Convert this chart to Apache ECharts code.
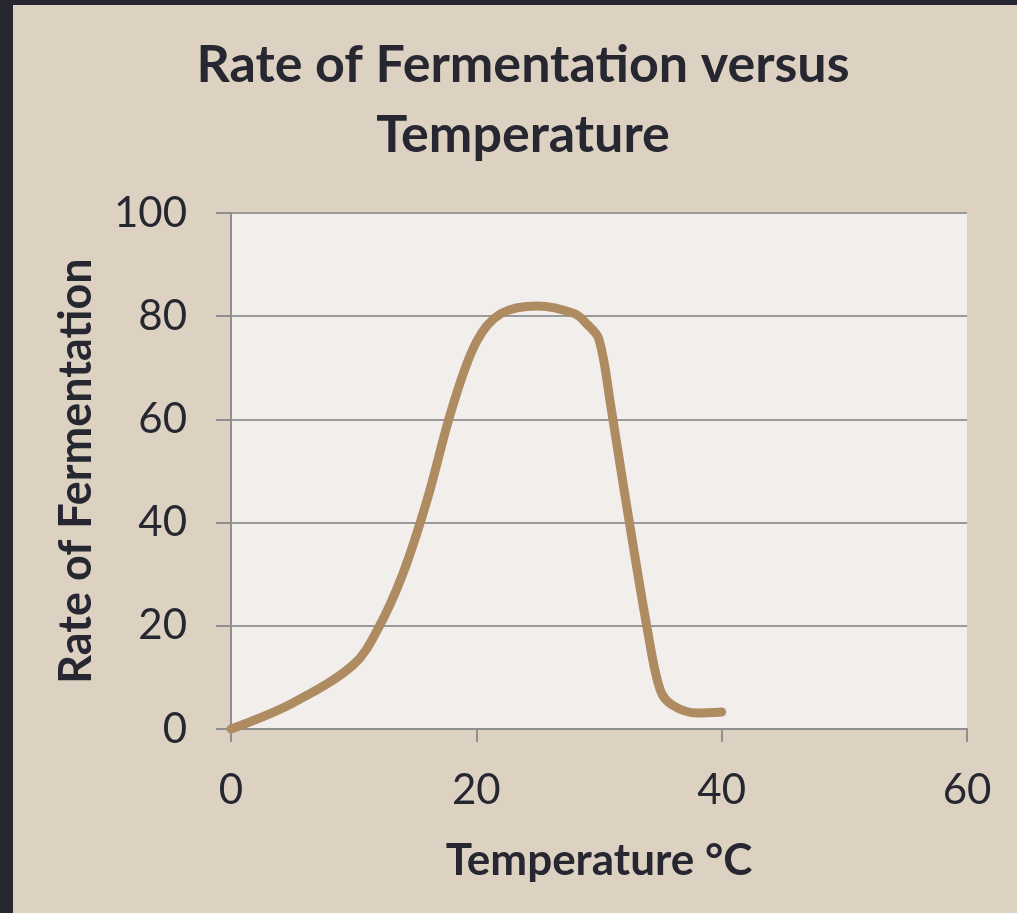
<!DOCTYPE html>
<html>
<head>
<meta charset="utf-8">
<script src="https://cdn.jsdelivr.net/npm/echarts@6/dist/echarts.min.js"></script>
<style>
  html, body { margin: 0; padding: 0; background: #DDD2C2; }
  #main { position: absolute; left: 0; top: 0; width: 1017px; height: 913px; }
  .edge { position: absolute; background: #272731; z-index: 5; }
</style>
</head>
<body>
<div id="main"></div>
<div class="edge" style="left:0;top:0;width:13px;height:913px"></div>
<div class="edge" style="left:0;top:0;width:1017px;height:5px"></div>
<script>
  // temperature (°C) and rate
  const temperature = [0, 5, 10, 12, 14, 16, 18, 20, 22, 25, 28, 29, 30, 31, 32, 34, 35, 36, 38, 40];
  const rate = [0, 5, 12.5, 19.5, 30, 44.5, 62, 75, 80.5, 82, 80.5, 78.5, 75.5, 62, 47, 18.5, 7.5, 4.6, 3.1, 3.3];
  const xTicks = { min: 0, max: 60, interval: 20 };
  const yTicks = { min: 0, max: 100, interval: 20 };

  const textColor = '#272732';
  const axisGrey = '#8F8F8F';
  const font = 'Lato, "Open Sans", sans-serif';

  const chart = echarts.init(document.getElementById('main'), null, { renderer: 'canvas' });
  const option = {
    backgroundColor: '#DDD2C2',
    animation: false,
    title: {
      text: 'Rate of Fermentation versus\nTemperature',
      left: 518,
      textAlign: 'center',
      top: 25,
      textStyle: {
        fontFamily: font,
        fontSize: 52,
        fontWeight: 'bold',
        color: textColor,
        lineHeight: 70
      }
    },
    grid: {
      left: 231,
      right: 50,
      top: 213,
      bottom: 184,
      show: true,
      backgroundColor: '#F1EEEB',
      borderWidth: 0
    },
    xAxis: {
      type: 'value',
      min: xTicks.min,
      max: xTicks.max,
      interval: xTicks.interval,
      name: 'Temperature °C',
      nameLocation: 'middle',
      nameGap: 110,
      nameTextStyle: {
        fontFamily: font,
        fontSize: 44,
        fontWeight: 'bold',
        color: textColor
      },
      axisLine: { show: true, lineStyle: { color: axisGrey, width: 2 } },
      axisTick: { show: true, length: 13, lineStyle: { color: axisGrey, width: 2 } },
      splitLine: { show: false },
      axisLabel: {
        margin: 40,
        fontFamily: font,
        fontSize: 42,
        color: textColor
      }
    },
    yAxis: {
      type: 'value',
      min: yTicks.min,
      max: yTicks.max,
      interval: yTicks.interval,
      name: 'Rate of Fermentation',
      nameLocation: 'middle',
      nameGap: 132,
      nameTextStyle: {
        fontFamily: font,
        fontSize: 45,
        fontWeight: 'bold',
        color: textColor
      },
      axisLine: { show: true, lineStyle: { color: axisGrey, width: 2 } },
      axisTick: { show: true, length: 15, lineStyle: { color: axisGrey, width: 2 } },
      splitLine: { show: true, lineStyle: { color: '#9A9A9A', width: 2 } },
      axisLabel: {
        margin: 44,
        fontFamily: font,
        fontSize: 42,
        color: textColor
      }
    },
    series: [
      {
        type: 'line',
        data: temperature.map((t, i) => [t, rate[i]]),
        smooth: 0.35,
        showSymbol: false,
        lineStyle: { color: '#AE8B61', width: 9, cap: 'round', join: 'round' }
      }
    ]
  };
  chart.setOption(option);
</script>
</body>
</html>
